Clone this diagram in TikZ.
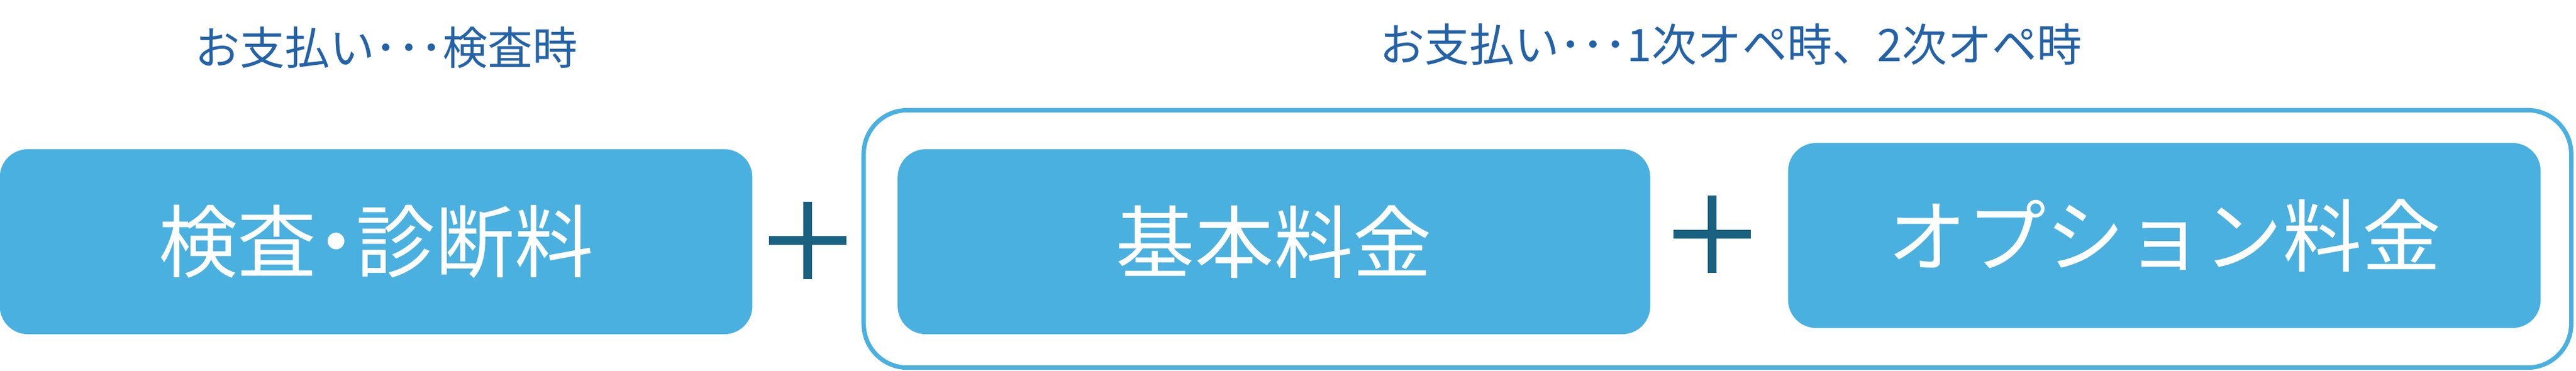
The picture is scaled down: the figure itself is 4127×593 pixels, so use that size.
\documentclass[tikz,border=0pt]{standalone}
\usepackage{fontspec}
\setmainfont{Noto Sans CJK JP}
\definecolor{feeblue}{RGB}{74, 176, 224}
\definecolor{plusteal}{RGB}{26, 96, 128}
\definecolor{paytext}{RGB}{36, 98, 166}
\usepackage{tikz}
\usetikzlibrary{positioning}

\begin{document}
\begin{tikzpicture}[x=0.01cm, y=-0.01cm,
  feebox/.style={fill=feeblue, rounded corners=0.45cm, minimum width=12.05cm, minimum height=2.96cm, inner sep=0pt, text=white, font=\fontsize{36}{40}\selectfont},
  paynote/.style={text=paytext, inner sep=0pt, font=\fontsize{20.5}{24}\selectfont},
  plusbar/.style={draw=plusteal, line width=0.14cm}]
  \useasboundingbox (0,0) rectangle (4127,593);
  % outer frame for the operation fees
  \node[draw=feeblue, line width=0.07cm, rounded corners=0.7cm, minimum width=27.34cm, minimum height=4.12cm, inner sep=0pt] (opframe) at (2751.5,382.5) {};
  \node[feebox] (exam) at (602.5,387) {検査\kern-0.25em・\kern-0.25em 診断料};
  \node[feebox] (basic) at (2041,387) {基本料金};
  \node[feebox] (option) at (3467.5,377) {オプション料金};
  % payment notes
  \node[paynote] (payexam) at (619,76) {お支払い･･･検査時};
  \node[paynote] (payop) at (2773,71) {お支払い･･･1次オペ時、2次オペ時};
  % plus signs
  \foreach \cx/\cy in {1294/385, 2743/375}
    \draw[plusbar] (\cx-62,\cy) -- (\cx+62,\cy) (\cx,\cy-62) -- (\cx,\cy+62);
\end{tikzpicture}
\end{document}
